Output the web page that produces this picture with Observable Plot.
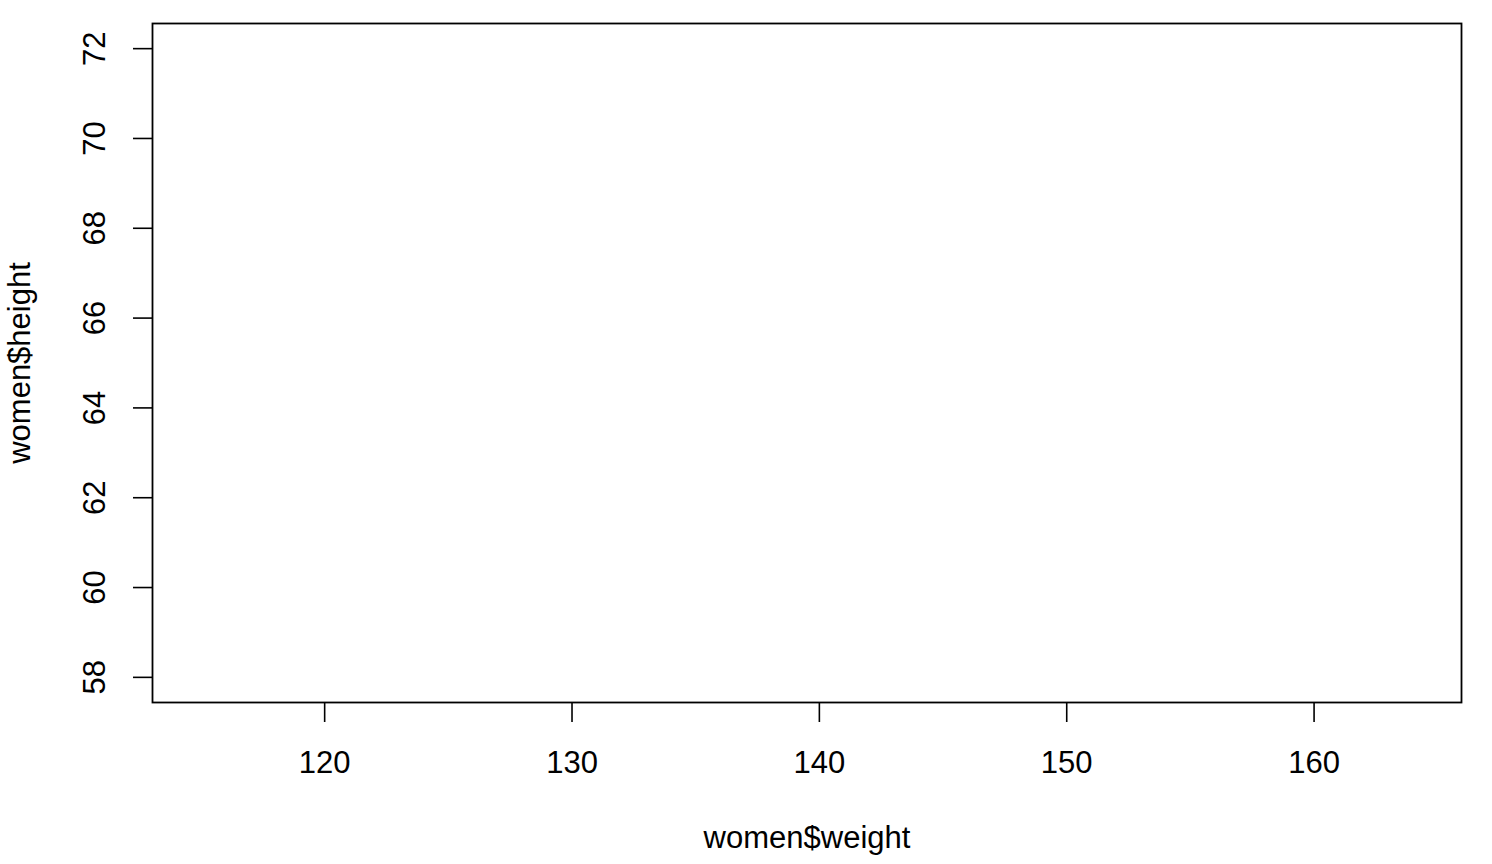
<!DOCTYPE html>
<html>
<head>
<meta charset="utf-8">
<script src="https://cdn.jsdelivr.net/npm/d3@7"></script>
<script src="https://cdn.jsdelivr.net/npm/@observablehq/plot@0.6"></script>
<style>
  html, body { margin: 0; padding: 0; background: #ffffff; }
  #chart { width: 1492px; height: 864px; }
</style>
</head>
<body>
<div id="chart"></div>
<script>
// R "women" dataset (plotted with type = "n": only axes are drawn)
const heights = [58, 59, 60, 61, 62, 63, 64, 65, 66, 67, 68, 69, 70, 71, 72];
const weights = [115, 117, 120, 123, 126, 129, 132, 135, 139, 142, 146, 150, 154, 159, 164];
const xTicks = [120, 130, 140, 150, 160];
const yTicks = [58, 60, 62, 64, 66, 68, 70, 72];
const xTitle = "women$weight";
const yTitle = "women$height";

// R default axis expansion of 4%
function expand(arr) {
  const [lo, hi] = d3.extent(arr);
  const pad = (hi - lo) * 0.04;
  return [lo - pad, hi + pad];
}

const font = "Helvetica, Arial, 'Liberation Sans', sans-serif";
const fs = 31;

const chart = Plot.plot({
  width: 1492,
  height: 864,
  marginLeft: 152,
  marginRight: 31,
  marginTop: 23,
  marginBottom: 162,
  style: { fontFamily: font, fontSize: fs + "px", background: "#ffffff", color: "#000000" },
  x: { domain: expand(weights), axis: null },
  y: { domain: expand(heights), axis: null },
  marks: [
    Plot.frame({ stroke: "#000000", strokeWidth: 1.8 }),
    Plot.axisX({ ticks: xTicks, tickSize: 20, tickPadding: 28, fontSize: fs, strokeWidth: 1.6, label: null, tickFormat: d => String(d) }),
    Plot.axisY({ ticks: yTicks, tickSize: 19, strokeWidth: 1.6, label: null, tickFormat: () => "" }),
    Plot.text(yTicks, { y: d => d, text: d => String(d), frameAnchor: "left", dx: -57, rotate: -90, fontSize: fs, fill: "#000000", lineAnchor: "middle", textAnchor: "middle" }),
    Plot.text([xTitle], { text: d => d, frameAnchor: "bottom", dy: 136, fontSize: fs, fill: "#000000", lineAnchor: "middle", textAnchor: "middle" }),
    Plot.text([yTitle], { text: d => d, frameAnchor: "left", dx: -132, rotate: -90, fontSize: fs, fill: "#000000", lineAnchor: "middle", textAnchor: "middle" })
  ]
});
document.getElementById("chart").appendChild(chart);
</script>
</body>
</html>
